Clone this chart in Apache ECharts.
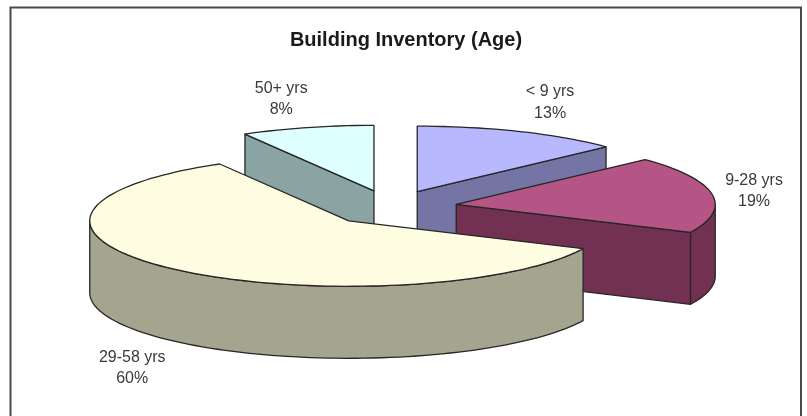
<!DOCTYPE html>
<html>
<head>
<meta charset="utf-8">
<title>Building Inventory (Age)</title>
<style>
  html, body { margin: 0; padding: 0; background: #fff; }
  #chart { width: 807px; height: 416px; }
</style>
<script src="https://cdn.jsdelivr.net/npm/echarts@6/dist/echarts.min.js"></script>
</head>
<body>
<div id="chart"></div>
<script>
const titleText = 'Building Inventory (Age)';
const categories = ['< 9 yrs', '9-28 yrs', '29-58 yrs', '50+ yrs'];
// labels print these rounded; the slice angles show the last two are not quite 60 and 8
const shares = [13, 19, 59.7, 8.3];

const topColors = ['#b8b8ff', '#b45585', '#fffde1', '#deffff'];
const sideColors = ['#7575a5', '#723052', '#a5a58f', '#8aa3a3'];
const lineColor = '#262626';
const textColor = '#3a3a3a';
const fontName = '"Liberation Sans", Arial, sans-serif';

// pie geometry (tilted ellipse + slab height)
const cx = 391, cy = 207, rx = 259, ry = 65.5, depth = 72, explode = 0.255;
// the big slice sits a little further right/down than the plain explode gives
const sliceNudge = [[0, 0], [0, 0], [2.5, 1.5], [0, 0]];
// label centre, relative to the slice's rim at its mid angle
const labelOffsets = [[30, -29], [42, -3], [-41, 99], [-26, -28.5]];

const total = shares.reduce((a, b) => a + b, 0);
const rad = d => d * Math.PI / 180;
let running = 0;
const slices = shares.map((v, i) => {
  const a0 = running / total * 360;
  running += v;
  const a1 = running / total * 360;
  const mid = rad((a0 + a1) / 2);
  return {
    index: i, a0, a1, mid,
    ox: cx + explode * rx * Math.sin(mid) + sliceNudge[i][0],
    oy: cy - explode * ry * Math.cos(mid) + sliceNudge[i][1]
  };
});
// paint the slices from the back of the pie to the front
const drawOrder = slices.slice().sort((a, b) => a.oy - b.oy).map(s => s.index);

function rim(s, deg, drop) {
  return [s.ox + rx * Math.sin(rad(deg)), s.oy - ry * Math.cos(rad(deg)) + drop];
}

function arcPoints(s, from, to, drop) {
  const pts = [];
  const steps = Math.max(2, Math.ceil((to - from) / 2));
  for (let k = 0; k <= steps; k++) pts.push(rim(s, from + (to - from) * k / steps, drop));
  return pts;
}

function face(points, fill) {
  return {
    type: 'polygon',
    shape: { points },
    style: { fill, stroke: lineColor, lineWidth: 1.3, lineJoin: 'round' }
  };
}

function radialWall(s, deg, fill) {
  const p = rim(s, deg, 0);
  return face([[s.ox, s.oy], p, [p[0], p[1] + depth], [s.ox, s.oy + depth]], fill);
}

function renderSlice(params, api) {
  const s = slices[api.value(0)];
  const side = sideColors[s.index];
  const children = [];
  if (Math.sin(rad(s.a0)) < -1e-6) children.push(radialWall(s, s.a0, side));
  if (Math.sin(rad(s.a1)) > 1e-6) children.push(radialWall(s, s.a1, side));
  const from = Math.max(s.a0, 90), to = Math.min(s.a1, 270);
  if (to > from) {
    children.push(face(arcPoints(s, from, to, 0).concat(arcPoints(s, from, to, depth).reverse()), side));
  }
  children.push(face([[s.ox, s.oy]].concat(arcPoints(s, s.a0, s.a1, 0)), topColors[s.index]));

  const edge = rim(s, (s.a0 + s.a1) / 2, 0);
  const off = labelOffsets[s.index];
  children.push({
    type: 'text',
    z2: 100,
    style: {
      x: edge[0] + off[0],
      y: edge[1] + off[1],
      text: categories[s.index] + '\n' + Math.round(shares[s.index]) + '%',
      fill: textColor,
      font: '16px ' + fontName,
      lineHeight: 21.5,
      align: 'center',
      verticalAlign: 'middle'
    }
  });
  return { type: 'group', children };
}

const chart = echarts.init(document.getElementById('chart'), null, { renderer: 'canvas' });
chart.setOption({
  animation: false,
  backgroundColor: '#ffffff',
  title: {
    text: titleText,
    left: 401,
    top: 25,
    textAlign: 'center',
    textStyle: { fontFamily: fontName, fontSize: 20, fontWeight: 'bold', color: '#1a1a1a' }
  },
  graphic: [
    { type: 'polyline', silent: true,
      shape: { points: [[10.5, 430], [10.5, 7.5], [801, 7.5], [801, 430]] },
      style: { fill: 'none', stroke: '#4a4a4a', lineWidth: 2 } }
  ],
  series: [{
    type: 'custom',
    coordinateSystem: 'none',
    silent: true,
    renderItem: renderSlice,
    data: drawOrder.map(i => [i])
  }]
});
window.addEventListener('resize', () => chart.resize());
</script>
</body>
</html>
